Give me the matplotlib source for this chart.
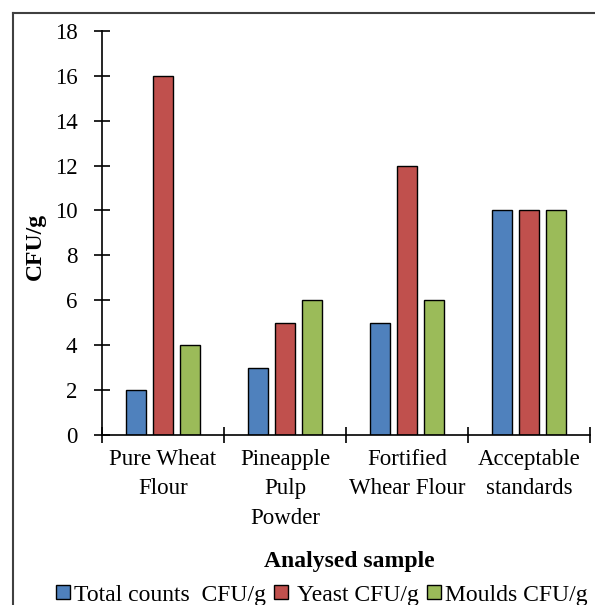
import matplotlib.pyplot as plt
import numpy as np
from matplotlib.lines import Line2D
from matplotlib.patches import Patch

# data
samples = ['Pure Wheat\nFlour', 'Pineapple\nPulp\nPowder',
           'Fortified\nWhear Flour', 'Acceptable\nstandards']
series_names = ['Total counts  CFU/g', ' Yeast CFU/g', 'Moulds CFU/g']
total_counts = [2, 3, 5, 10]
yeast = [16, 5, 12, 10]
moulds = [4, 6, 6, 10]
y_ticks = [0, 2, 4, 6, 8, 10, 12, 14, 16, 18]

colors = ['#4F81BD', '#C0504D', '#9BBB59']

plt.rcParams['font.family'] = ['Liberation Serif', 'DejaVu Serif']

fig = plt.figure(figsize=(5.95, 6.05), dpi=100)
ax = fig.add_axes([0.171, 0.281, 0.821, 0.668])

x = np.arange(len(samples))
bar_width = 0.164
step = 0.22
for i, values in enumerate([total_counts, yeast, moulds]):
    ax.bar(x + (i - 1) * step, values, bar_width, color=colors[i],
           edgecolor='black', linewidth=1.0, label=series_names[i])

ax.set_xlim(-0.5, len(samples) - 0.5)
ax.set_ylim(0, 18)
ax.set_yticks(y_ticks)
ax.set_yticklabels([str(v) for v in y_ticks], fontsize=16.5)

# boundaries as major ticks, labels at the centres
ax.set_xticks(np.arange(len(samples) + 1) - 0.5)
ax.set_xticklabels([])
ax.set_xticks(x, minor=True)
ax.set_xticklabels(samples, minor=True, fontsize=16.5, linespacing=1.52)
ax.tick_params(axis='x', which='major', direction='inout', length=11,
               width=1.2)
ax.tick_params(axis='x', which='minor', length=0, pad=10)
ax.tick_params(axis='y', direction='inout', length=11, width=1.2, pad=12)

for side in ['top', 'right']:
    ax.spines[side].set_visible(False)
for side in ['left', 'bottom']:
    ax.spines[side].set_linewidth(1.2)

ax.set_ylabel('CFU/g', fontsize=17, fontweight='bold')
ax.yaxis.set_label_coords(-0.114, 0.467)
fig.text(349 / 595, 1 - 566.7 / 605, 'Analysed sample', fontsize=17,
         fontweight='bold', ha='center', va='baseline')

handles = [Patch(facecolor=c, edgecolor='black', linewidth=1.0)
           for c in colors]
fig.legend(handles, series_names, loc='center',
           bbox_to_anchor=(0.541, 1 - 595 / 605), ncol=3, frameon=False,
           fontsize=17, handlelength=0.6, handleheight=0.5,
           handletextpad=0.15, columnspacing=0.35, borderpad=0)

# outer frame of the chart area
fig.add_artist(Line2D([13 / 595, 13 / 595], [0, 1 - 13 / 605],
                      transform=fig.transFigure, color='#404040', lw=1.5))
fig.add_artist(Line2D([13 / 595, 1], [1 - 13 / 605, 1 - 13 / 605],
                      transform=fig.transFigure, color='#404040', lw=1.5))

fig.savefig('out.png', dpi=100)
